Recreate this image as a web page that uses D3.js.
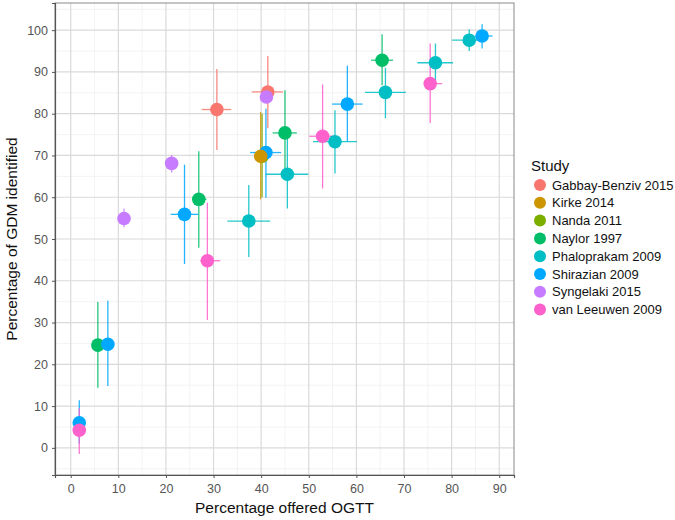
<!DOCTYPE html>
<html><head><meta charset="utf-8">
<script src="https://cdn.jsdelivr.net/npm/d3@7"></script>
<style>body{margin:0;background:#fff;font-family:Arial,"Liberation Sans",sans-serif;}</style>
</head><body><svg id="c" width="675" height="520"></svg>
<script>
const studies = ["Gabbay-Benziv 2015","Kirke 2014","Nanda 2011","Naylor 1997","Phaloprakam 2009","Shirazian 2009","Syngelaki 2015","van Leeuwen 2009"];
const colors = ["#F8766D","#CD9600","#7CAE00","#00BE67","#00BFC4","#00A9FF","#C77CFF","#FF61CC"];
// per-point arrays
const ptStudy = ["Gabbay-Benziv 2015","Gabbay-Benziv 2015","Nanda 2011",
  "Naylor 1997","Naylor 1997","Naylor 1997","Naylor 1997",
  "Phaloprakam 2009","Phaloprakam 2009","Phaloprakam 2009","Phaloprakam 2009","Phaloprakam 2009","Phaloprakam 2009",
  "Shirazian 2009","Shirazian 2009","Shirazian 2009","Shirazian 2009","Shirazian 2009","Shirazian 2009",
  "Syngelaki 2015","Syngelaki 2015","Syngelaki 2015",
  "van Leeuwen 2009","van Leeuwen 2009","van Leeuwen 2009","van Leeuwen 2009","Kirke 2014"];
const ptX    = [30.7,41.4,40.2, 5.7,26.9,45.0,65.4, 37.4,45.5,55.5,66.1,76.6,83.7, 1.8,7.8,23.9,41.0,58.1,86.4, 11.2,21.2,41.1, 1.8,28.7,52.9,75.5, 39.9];
const ptY    = [81.0,85.2,69.8, 24.6,59.5,75.4,92.8, 54.3,65.5,73.3,85.1,92.2,97.6, 6.0,24.8,55.9,70.7,82.3,98.6, 54.9,68.1,84.0, 4.2,44.8,74.6,87.2, 69.8];
const ptXlo  = [27.5,38.0,39.0, 5.0,26.0,42.4,63.1, 32.9,40.9,50.9,61.8,72.8,80.1, 1.2,7.0,21.0,37.7,54.9,84.9, 10.6,20.5,40.5, 1.2,27.2,50.1,74.2, 38.7];
const ptXhi  = [33.7,44.6,41.5, 6.4,28.5,47.5,67.7, 41.9,49.9,60.1,70.4,80.3,87.2, 2.4,8.8,26.8,44.2,61.3,88.6, 11.8,21.9,41.7, 2.4,31.4,55.5,78.0, 41.4];
const ptYlo  = [71.3,76.5,60.0, 14.4,47.9,65.0,86.8, 45.7,57.3,65.7,78.9,88.0,95.0, 1.0,14.8,44.0,59.9,73.3,95.6, 52.8,65.9,82.5, -1.5,30.6,62.1,77.8, 59.5];
const ptYhi  = [90.7,93.8,80.0, 34.9,71.0,85.6,99.0, 62.9,75.0,80.8,91.0,96.8,100.2, 11.4,35.2,67.8,81.2,91.5,101.4, 57.3,70.1,85.5, 9.5,58.7,87.0,96.8, 80.4];
const xTicks = [0,10,20,30,40,50,60,70,80,90];
const yTicks = [0,10,20,30,40,50,60,70,80,90,100];

const svg = d3.select("#c");
const L=55, R=514, T=3, B=475;
const x = d3.scaleLinear().domain([-3.3,93.1]).range([L,R]);
const y = d3.scaleLinear().domain([-6.5,106.5]).range([B,T]);
const col = d3.scaleOrdinal().domain(studies).range(colors);

// minor grid
const xMinor = xTicks.map(v=>v+5).concat([-5]).filter(v=>v>-3.3&&v<93.1);
const yMinor = yTicks.map(v=>v+5).concat([-5]).filter(v=>v>-6.5&&v<106.5);
const g = svg.append("g");
g.selectAll(".xm").data(xMinor).join("line").attr("x1",d=>x(d)).attr("x2",d=>x(d)).attr("y1",T).attr("y2",B).attr("stroke","#F0F0F0").attr("stroke-width",0.8);
g.selectAll(".ym").data(yMinor).join("line").attr("y1",d=>y(d)).attr("y2",d=>y(d)).attr("x1",L).attr("x2",R).attr("stroke","#F0F0F0").attr("stroke-width",0.8);
g.selectAll(".xM").data(xTicks).join("line").attr("x1",d=>x(d)).attr("x2",d=>x(d)).attr("y1",T).attr("y2",B).attr("stroke","#DADADA").attr("stroke-width",1.2);
g.selectAll(".yM").data(yTicks).join("line").attr("y1",d=>y(d)).attr("y2",d=>y(d)).attr("x1",L).attr("x2",R).attr("stroke","#DADADA").attr("stroke-width",1.2);

// border
svg.append("rect").attr("x",L).attr("y",T).attr("width",R-L).attr("height",B-T).attr("fill","none").attr("stroke","#8a8a8a").attr("stroke-width",1);

// axes
const xa = svg.append("g").attr("transform",`translate(0,${B})`).call(d3.axisBottom(x).tickValues(xTicks).tickSize(3).tickPadding(4));
const ya = svg.append("g").attr("transform",`translate(${L},0)`).call(d3.axisLeft(y).tickValues(yTicks).tickSize(3).tickPadding(4));
[xa,ya].forEach(a=>{
  a.select(".domain").attr("stroke","#555").attr("stroke-width",1.2);
  a.selectAll(".tick line").attr("stroke","#555");
  a.selectAll("text").attr("fill","#555").style("font-size","12.5px").style("font-family","Arial,'Liberation Sans',sans-serif");
});
xa.selectAll("text").attr("dy","0.9em");

svg.append("text").attr("x",(L+R)/2).attr("y",513).attr("text-anchor","middle").style("font-size","15.5px").attr("fill","#111").text("Percentage offered OGTT");
svg.append("text").attr("transform",`translate(17,${(T+B)/2}) rotate(-90)`).attr("text-anchor","middle").style("font-size","15.5px").attr("fill","#111").text("Percentage of GDM identified");

// points
const pts = ptX.map((v,i)=>({s:ptStudy[i],x:v,y:ptY[i],xlo:ptXlo[i],xhi:ptXhi[i],ylo:ptYlo[i],yhi:ptYhi[i]}));
const eg = svg.append("g");
eg.selectAll(".v").data(pts).join("line").attr("x1",d=>x(d.x)).attr("x2",d=>x(d.x)).attr("y1",d=>y(d.ylo)).attr("y2",d=>y(d.yhi)).attr("stroke",d=>col(d.s)).attr("stroke-width",1.3).attr("opacity",0.85);
eg.selectAll(".h").data(pts).join("line").attr("x1",d=>x(d.xlo)).attr("x2",d=>x(d.xhi)).attr("y1",d=>y(d.y)).attr("y2",d=>y(d.y)).attr("stroke",d=>col(d.s)).attr("stroke-width",1.3).attr("opacity",0.85);
svg.append("g").selectAll("circle").data(pts).join("circle").attr("cx",d=>x(d.x)).attr("cy",d=>y(d.y)).attr("r",6.8).attr("fill",d=>col(d.s));

// legend
const lg = svg.append("g");
lg.append("text").attr("x",531).attr("y",171).style("font-size","15px").attr("fill","#111").text("Study");
studies.forEach((s,i)=>{
  const yy = 185 + i*17.8;
  lg.append("circle").attr("cx",540).attr("cy",yy).attr("r",6).attr("fill",col(s));
  lg.append("text").attr("x",552).attr("y",yy+4.5).style("font-size","13px").attr("fill","#111").text(s);
});
</script></body></html>
